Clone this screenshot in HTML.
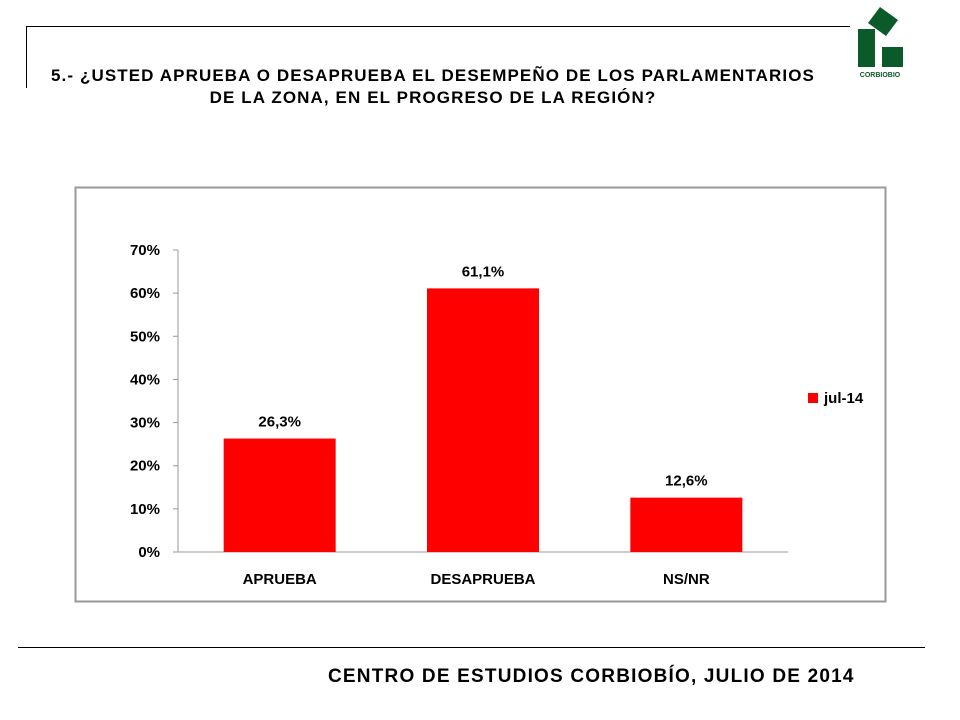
<!DOCTYPE html>
<html><head><meta charset="utf-8"><style>
body{margin:0;width:960px;height:720px;background:#fff;position:relative;overflow:hidden;font-family:"Liberation Sans",sans-serif}
.abs{position:absolute}
</style></head><body>
<div class="abs" style="left:26px;top:26px;width:824px;height:1px;background:#000"></div>
<div class="abs" style="left:26px;top:26px;width:1px;height:62px;background:#000"></div>
<svg class="abs" style="left:0;top:0" width="960" height="90">
<polygon points="880,7 898,20 886,36 868,23" fill="#0b5a2a"/>
<rect x="858" y="29" width="17" height="38" fill="#0b5a2a"/>
<rect x="882" y="47" width="21" height="20" fill="#0b5a2a"/>
<text x="880" y="77" font-size="7" font-weight="bold" fill="#0b5a2a" text-anchor="middle" font-family="Liberation Sans">CORBIOBIO</text>
</svg>
<div class="abs" style="left:33px;top:65px;width:800px;text-align:center;font-weight:bold;font-size:17px;line-height:22px;letter-spacing:1.1px;white-space:nowrap">5.- ¿USTED APRUEBA O DESAPRUEBA EL DESEMPEÑO DE LOS PARLAMENTARIOS<br>DE LA ZONA, EN EL PROGRESO DE LA REGIÓN?</div>
<svg class="abs" style="left:0;top:0" width="960" height="720">
<rect x="75.5" y="187.5" width="810" height="414" fill="#fff" stroke="#999" stroke-width="2"/>
<g id="g"></g>
</svg>
<div class="abs" style="left:18px;top:647px;width:907px;height:1px;background:#000"></div>
<div class="abs" style="left:328px;top:666px;font-weight:bold;font-size:19px;letter-spacing:1.2px;white-space:nowrap">CENTRO DE ESTUDIOS CORBIOBÍO, JULIO DE 2014</div>
<script>
const categories=["APRUEBA","DESAPRUEBA","NS/NR"];
const values=[26.3,61.1,12.6];
const valueLabels=["26,3%","61,1%","12,6%"];
const ticks=[0,10,20,30,40,50,60,70];
const NS="http://www.w3.org/2000/svg",g=document.getElementById('g');
const x0=178,x1=788,y0=552,y70=250;
const y=v=>y0-(v/70)*(y0-y70);
const bw=(x1-x0)/categories.length;
function mk(t,a,txt){const e=document.createElementNS(NS,t);for(const k in a)e.setAttribute(k,a[k]);if(txt!=null)e.textContent=txt;g.appendChild(e);return e;}
const F='"Liberation Sans",sans-serif';
let ax=mk('line',{x1:x0,y1:y70,x2:x0,y2:y0,stroke:'#999'});

let bx=mk('line',{x1:x0,y1:y0,x2:x1,y2:y0,stroke:'#999'});

ticks.forEach(t=>{
 let l=mk('line',{x1:x0-5,y1:y(t),x2:x0,y2:y(t),stroke:'#999'});
 
 let tx=mk('text',{x:x0-18,y:y(t)+5,'text-anchor':'end','font-size':15,'font-weight':'bold','font-family':F},t+'%');
 
});
categories.forEach((c,i)=>{
 const cx=x0+bw*(i+0.5),w=112;
 let r=mk('rect',{x:cx-w/2,y:y(values[i]),width:w,height:y0-y(values[i]),fill:'#ff0000'});
 
 let v=mk('text',{x:cx,y:y(values[i])-12,'text-anchor':'middle','font-size':15,'font-weight':'bold','font-family':F},valueLabels[i]);
 
 let cl=mk('text',{x:cx,y:y0+32,'text-anchor':'middle','font-size':15,'font-weight':'bold','font-family':F},c);
 
});
let lg=mk('rect',{x:808,y:393,width:10,height:10,fill:'#ff0000'});

let lt=mk('text',{x:824,y:403,'font-size':15,'font-weight':'bold','font-family':F},'jul-14');

</script>
</body></html>
